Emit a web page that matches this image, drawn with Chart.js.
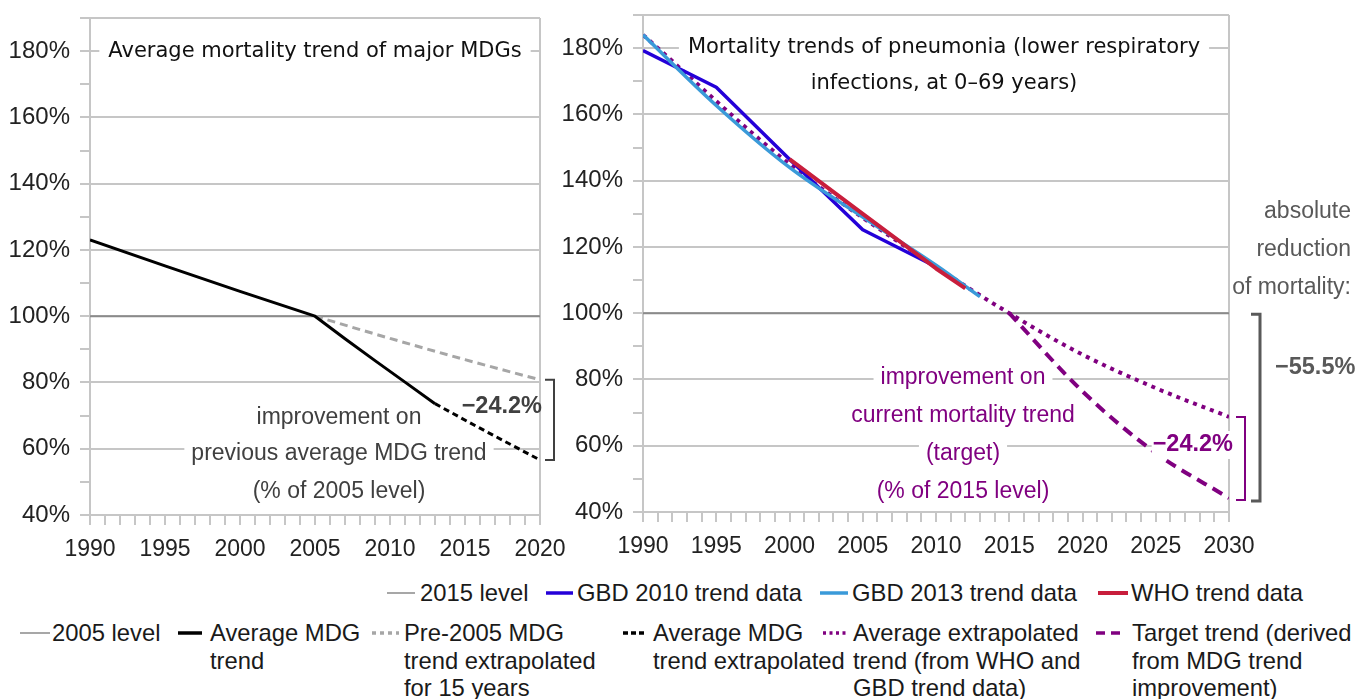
<!DOCTYPE html>
<html>
<head>
<meta charset="utf-8">
<title>Mortality trends</title>
<script src="https://cdn.jsdelivr.net/npm/chart.js@4.4.1/dist/chart.umd.min.js"></script>
<style>
  body { margin: 0; background: #fff; }
  #wrap { position: relative; width: 1359px; height: 699px; overflow: hidden; font-family: "Liberation Sans", Arial, sans-serif; }
  canvas { position: absolute; top: 0; }
  #leftChart { left: 0; }
  #rightChart { left: 560px; }
  .legText { position: absolute; font-size: 23.8px; line-height: 27.5px; color: #1a1a1a; white-space: pre; }
  .legSwatch { position: absolute; }
</style>
</head>
<body>
<div id="wrap">
  <canvas id="leftChart" width="600" height="570"></canvas>
  <canvas id="rightChart" width="799" height="567"></canvas>
</div>
<script>
// values (left: % of 2005 level, right: % of 2015 level)
const leftLevelYears = [1990, 2020];
const leftLevelValues = [100, 100];
const mdgYears = [1990, 1995, 2000, 2005, 2007, 2009, 2011, 2013];
const mdgValues = [123, 115.2, 107.5, 100, 93.2, 86.6, 80.1, 73.6];
const preYears = [2005, 2010, 2015, 2020];
const preValues = [100, 93.3, 86.9, 80.8];
const mdgExtYears = [2013, 2016, 2020];
const mdgExtValues = [73.6, 66.2, 56.6];

const rightLevelYears = [1990, 2030];
const rightLevelValues = [100, 100];
const gbd2010Years = [1990, 1995, 2000, 2005, 2010];
const gbd2010Values = [179.3, 168.2, 146.5, 125.2, 114];
const gbd2013Years = [1990, 1995, 2000, 2005, 2010, 2013];
const gbd2013Values = [184, 162.7, 144, 129, 114.5, 105];
const whoYears = [2000, 2005, 2010, 2012];
const whoValues = [146.5, 130, 113.5, 107.5];
const avgExtYears = [1990, 2000, 2010, 2015, 2020, 2025, 2030];
const avgExtValues = [184, 145, 114, 100, 87.5, 77.4, 68.7];
const targetYears = [2015, 2020, 2025, 2030];
const targetValues = [100, 76.4, 57.8, 44.2];

const leftXLabels = [1990, 1995, 2000, 2005, 2010, 2015, 2020];
const rightXLabels = [1990, 1995, 2000, 2005, 2010, 2015, 2020, 2025, 2030];
const yLabels = [40, 60, 80, 100, 120, 140, 160, 180];

const leftNames = ['2005 level', 'Average MDG\ntrend', 'Pre-2005 MDG\ntrend extrapolated\nfor 15 years', 'Average MDG\ntrend extrapolated'];
const rightNames = ['2015 level', 'GBD 2010 trend data', 'GBD 2013 trend data', 'WHO trend data',
  'Average extrapolated\ntrend (from WHO and\nGBD trend data)', 'Target trend (derived\nfrom MDG trend\nimprovement)'];

const GRID = '#c6c6c6';
const PURPLE = '#800080';
const TEXT_FONT = '23px "Liberation Sans", Arial, sans-serif';
const BOLD_FONT = 'bold 23.5px "Liberation Sans", Arial, sans-serif';
const TITLE_FONT = '21px "DejaVu Sans", Verdana, sans-serif';

const styles = {
  level: { color: '#8a8a8a', width: 2, dash: [] },
  mdg: { color: '#000', width: 3, dash: [] },
  pre: { color: '#a6a6a6', width: 3, dash: [8, 5] },
  mdgExt: { color: '#000', width: 3, dash: [6, 4] },
  gbd10: { color: '#2400d8', width: 3.5, dash: [] },
  gbd13: { color: '#3a9ad9', width: 3.5, dash: [] },
  who: { color: '#c81e3c', width: 4, dash: [] },
  avgExt: { color: PURPLE, width: 4, dash: [4, 5] },
  target: { color: PURPLE, width: 4, dash: [11, 7] }
};

Chart.defaults.font.family = '"Liberation Sans", Arial, sans-serif';
Chart.defaults.color = '#222';

function series(label, xs, ys, st, smooth) {
  return {
    label: label,
    data: xs.map((x, i) => ({ x: x, y: ys[i] })),
    borderColor: st.color,
    borderWidth: st.width,
    borderDash: st.dash,
    borderCapStyle: 'butt',
    borderJoinStyle: 'round',
    pointRadius: 0,
    fill: false,
    cubicInterpolationMode: smooth ? 'monotone' : 'default',
    tension: 0
  };
}

function axes(xMin, xMax, xLabels, yWidth) {
  return {
    x: {
      type: 'linear', min: xMin, max: xMax,
      afterFit: s => { s.height = 55; s.paddingLeft = 0; s.paddingRight = 0; },
      ticks: {
        stepSize: 1, autoSkip: false, maxRotation: 0, padding: 11,
        font: { size: 23 }, color: '#222',
        callback: v => xLabels.includes(v) ? String(v) : ''
      },
      grid: {
        color: c => c.tick && c.tick.value === xMax ? GRID : 'transparent',
        tickColor: GRID, tickLength: 10, lineWidth: 2
      },
      border: { color: GRID, width: 2 }
    },
    y: {
      min: 40, max: 190,
      afterFit: s => { s.width = yWidth; s.paddingTop = 0; s.paddingBottom = 0; },
      ticks: {
        stepSize: 10, padding: 10,
        font: { size: 24 }, color: '#222',
        callback: v => yLabels.includes(v) ? v + '%' : ''
      },
      grid: {
        color: c => c.tick && (c.tick.value % 20 === 0 || c.tick.value === 190) ? GRID : 'transparent',
        tickColor: GRID, tickLength: 10, lineWidth: 2
      },
      border: { color: GRID, width: 2 }
    }
  };
}

// text helper, optional white box behind it to cut the grid lines
function note(ctx, text, x, y, font, color, align, pad) {
  ctx.font = font;
  const w = ctx.measureText(text).width;
  let left = x - w / 2;
  if (align === 'left') left = x;
  if (align === 'right') left = x - w;
  if (pad !== undefined) {
    ctx.fillStyle = '#fff';
    ctx.fillRect(left - pad, y - 14, w + 2 * pad, 28);
  }
  ctx.fillStyle = color;
  ctx.textAlign = 'left';
  ctx.textBaseline = 'middle';
  ctx.fillText(text, left, y);
}

function bracket(ctx, x, y1, y2, tick, color, width) {
  ctx.strokeStyle = color;
  ctx.lineWidth = width;
  ctx.setLineDash([]);
  ctx.beginPath();
  ctx.moveTo(x - tick, y1);
  ctx.lineTo(x, y1);
  ctx.lineTo(x, y2);
  ctx.lineTo(x - tick, y2);
  ctx.stroke();
}

const leftNotes = {
  id: 'leftNotes',
  beforeDatasetsDraw(chart) {
    const { ctx, chartArea: a } = chart;
    ctx.save();
    note(ctx, 'Average mortality trend of major MDGs', (a.left + a.right) / 2, a.top + 34, TITLE_FONT, '#111', 'center', 9);
    const cx = (a.left + a.right) / 2 + 24;
    note(ctx, 'improvement on', cx, a.bottom - 97, TEXT_FONT, '#404040', 'center', 7);
    note(ctx, 'previous average MDG trend', cx, a.bottom - 61, TEXT_FONT, '#404040', 'center', 7);
    note(ctx, '(% of 2005 level)', cx, a.bottom - 23, TEXT_FONT, '#404040', 'center', 7);
    ctx.restore();
  },
  afterDatasetsDraw(chart) {
    const { ctx, chartArea: a, scales: { y } } = chart;
    ctx.save();
    note(ctx, '\u221224.2%', a.right + 2, a.bottom - 108, BOLD_FONT, '#404040', 'right');
    bracket(ctx, a.right + 14, y.getPixelForValue(preValues[preValues.length - 1]),
      y.getPixelForValue(mdgExtValues[mdgExtValues.length - 1]), 9, '#404040', 2);
    ctx.restore();
  }
};

const rightNotes = {
  id: 'rightNotes',
  beforeDatasetsDraw(chart) {
    const { ctx, chartArea: a } = chart;
    ctx.save();
    const tx = (a.left + a.right) / 2 + 8;
    note(ctx, 'Mortality trends of pneumonia (lower respiratory', tx, a.top + 33, TITLE_FONT, '#111', 'center', 9);
    note(ctx, 'infections, at 0\u201369 years)', tx, a.top + 69, TITLE_FONT, '#111', 'center', 9);
    const px = (a.left + a.right) / 2 + 27;
    note(ctx, 'improvement on', px, a.bottom - 134, TEXT_FONT, PURPLE, 'center', 7);
    note(ctx, 'current mortality trend', px, a.bottom - 96, TEXT_FONT, PURPLE, 'center', 7);
    note(ctx, '(target)', px, a.bottom - 58, TEXT_FONT, PURPLE, 'center', 7);
    note(ctx, '(% of 2015 level)', px, a.bottom - 20, TEXT_FONT, PURPLE, 'center', 7);
    ctx.restore();
  },
  afterDraw(chart) {
    const { ctx, chartArea: a, scales: { y } } = chart;
    ctx.save();
    const avgEnd = y.getPixelForValue(avgExtValues[avgExtValues.length - 1]);
    const targetEnd = y.getPixelForValue(targetValues[targetValues.length - 1]);
    note(ctx, '\u221224.2%', a.right + 4, a.bottom - 67, BOLD_FONT, PURPLE, 'right', 1);
    bracket(ctx, a.right + 16, avgEnd, targetEnd + 2, 9, PURPLE, 2);
    bracket(ctx, a.right + 31, y.getPixelForValue(100) + 1, targetEnd + 3, 9, '#595959', 3);
    note(ctx, '\u221255.5%', a.right + 46, a.bottom - 144, BOLD_FONT, '#595959', 'left');
    note(ctx, 'absolute', a.right + 122, a.top + 197, TEXT_FONT, '#595959', 'right');
    note(ctx, 'reduction', a.right + 122, a.top + 235, TEXT_FONT, '#595959', 'right');
    note(ctx, 'of mortality:', a.right + 122, a.top + 273, TEXT_FONT, '#595959', 'right', 2);
    ctx.restore();
  }
};

function baseOptions(xMin, xMax, xLabels, yWidth, padding) {
  return {
    responsive: false,
    devicePixelRatio: 1,
    animation: false,
    layout: { padding: padding },
    plugins: { legend: { display: false }, tooltip: { enabled: false } },
    scales: axes(xMin, xMax, xLabels, yWidth)
  };
}

new Chart(document.getElementById('leftChart'), {
  type: 'line',
  data: {
    datasets: [
      series(leftNames[1], mdgYears, mdgValues, styles.mdg),
      series(leftNames[3], mdgExtYears, mdgExtValues, styles.mdgExt, true),
      series(leftNames[2], preYears, preValues, styles.pre, true),
      series(leftNames[0], leftLevelYears, leftLevelValues, styles.level)
    ]
  },
  options: baseOptions(1990, 2020, leftXLabels, 90, { top: 18, right: 60, bottom: 0, left: 0 }),
  plugins: [leftNotes]
});

new Chart(document.getElementById('rightChart'), {
  type: 'line',
  data: {
    datasets: [
      series(rightNames[3], whoYears, whoValues, styles.who),
      series(rightNames[2], gbd2013Years, gbd2013Values, styles.gbd13, true),
      series(rightNames[1], gbd2010Years, gbd2010Values, styles.gbd10),
      series(rightNames[5], targetYears, targetValues, styles.target, true),
      series(rightNames[4], avgExtYears, avgExtValues, styles.avgExt, true),
      series(rightNames[0], rightLevelYears, rightLevelValues, styles.level)
    ]
  },
  options: baseOptions(1990, 2030, rightXLabels, 83, { top: 15, right: 130, bottom: 0, left: 0 }),
  plugins: [rightNotes]
});

// legend: [name, style, swatch left, swatch right, text left, row centre]
const legendRows = [
  [rightNames[0], styles.level, 387, 415, 420, 593],
  [rightNames[1], styles.gbd10, 546, 573, 577, 593],
  [rightNames[2], styles.gbd13, 820, 848, 852, 593],
  [rightNames[3], styles.who, 1098, 1128, 1131, 593],
  [leftNames[0], styles.level, 20, 50, 52, 633],
  [leftNames[1], styles.mdg, 178, 202, 210, 633],
  [leftNames[2], { color: '#a6a6a6', width: 3, dash: [4, 4] }, 372, 399, 404, 633],
  [leftNames[3], { color: '#000', width: 3, dash: [5, 3] }, 623, 645, 653, 633],
  [rightNames[4], { color: PURPLE, width: 3.5, dash: [3, 3.5] }, 823, 849, 853, 633],
  [rightNames[5], { color: PURPLE, width: 3.5, dash: [9, 6] }, 1096, 1126, 1132, 633]
];

const wrap = document.getElementById('wrap');
legendRows.forEach(([name, st, s0, s1, tx, cy]) => {
  const w = s1 - s0;
  const sw = document.createElementNS('http://www.w3.org/2000/svg', 'svg');
  sw.setAttribute('class', 'legSwatch');
  sw.setAttribute('width', w);
  sw.setAttribute('height', 10);
  sw.style.left = s0 + 'px';
  sw.style.top = (cy - 5) + 'px';
  const ln = document.createElementNS('http://www.w3.org/2000/svg', 'line');
  ln.setAttribute('x1', 0);
  ln.setAttribute('x2', w);
  ln.setAttribute('y1', 5);
  ln.setAttribute('y2', 5);
  ln.setAttribute('stroke', st.color);
  ln.setAttribute('stroke-width', st.width === 2 ? 1.5 : Math.max(st.width, 3.5));
  if (st.dash.length) ln.setAttribute('stroke-dasharray', st.dash.join(' '));
  sw.appendChild(ln);
  wrap.appendChild(sw);

  const t = document.createElement('div');
  t.className = 'legText';
  t.textContent = name;
  t.style.left = tx + 'px';
  t.style.top = (cy - 13.75) + 'px';
  wrap.appendChild(t);
});
</script>
</body>
</html>
